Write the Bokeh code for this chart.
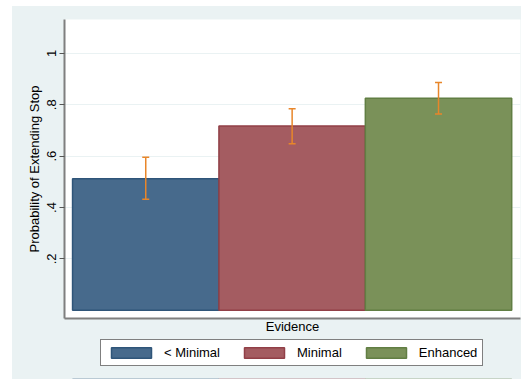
from bokeh.plotting import figure
from bokeh.models import (ColumnDataSource, Whisker, TeeHead, FixedTicker,
                          Legend, LegendItem, Range1d, Spacer)
from bokeh.layouts import column, row
from bokeh.embed import file_html
from bokeh.resources import INLINE

# Predicted probability of extending the stop, by level of evidence
groups = ["< Minimal", "Minimal", "Enhanced"]
positions = [1, 2, 3]
probability = [0.512, 0.717, 0.825]
ci_lower = [0.432, 0.648, 0.764]
ci_upper = [0.596, 0.785, 0.887]
y_ticks = [0.2, 0.4, 0.6, 0.8, 1.0]
y_tick_labels = [".2", ".4", ".6", ".8", "1"]

fill_colors = ["#476a8c", "#a45c61", "#7a9159"]
edge_colors = ["#2f5579", "#913f47", "#617e43"]
ci_color = "#e8862a"
bg_color = "#eaf2f3"
font = "Liberation Sans"
fsize = "13px"

p = figure(width=509, height=330, output_backend="svg", toolbar_location=None,
           x_range=Range1d(0.445, 3.56), y_range=Range1d(-0.032, 1.132),
           min_border_left=52, min_border_right=1, min_border_top=13,
           min_border_bottom=16)
p.background_fill_color = "white"
p.border_fill_color = bg_color
p.outline_line_color = None

for i in range(len(groups)):
    src = ColumnDataSource(dict(x=[positions[i]], top=[probability[i]]))
    p.vbar(x="x", top="top", bottom=0, width=1.0, source=src,
           fill_color=fill_colors[i], line_color=edge_colors[i], line_width=1.5)

ci_src = ColumnDataSource(dict(x=positions, lower=ci_lower, upper=ci_upper))
p.add_layout(Whisker(source=ci_src, base="x", lower="lower", upper="upper",
                     level="annotation", line_color=ci_color, line_width=1.5,
                     upper_head=TeeHead(size=7, line_color=ci_color, line_width=1.5),
                     lower_head=TeeHead(size=7, line_color=ci_color, line_width=1.5)))

# y axis: rotated tick labels in Stata style
ya = p.yaxis[0]
ya.ticker = FixedTicker(ticks=y_ticks)
ya.major_label_overrides = {t: l for t, l in zip(y_ticks, y_tick_labels)}
ya.major_label_orientation = "vertical"
ya.minor_tick_line_color = None
ya.major_tick_in = 0
ya.major_tick_out = 5
ya.major_tick_line_color = "#555555"
ya.axis_line_color = "#7f7f7f"
ya.axis_line_width = 2
ya.major_label_text_font = font
ya.major_label_text_font_size = fsize
ya.major_label_text_color = "black"
ya.major_label_standoff = 3
ya.axis_label = "Probability of Extending Stop"
ya.axis_label_text_font = font
ya.axis_label_text_font_size = fsize
ya.axis_label_text_font_style = "normal"
ya.axis_label_text_color = "black"
ya.axis_label_standoff = 3

# x axis: title only
xa = p.xaxis[0]
xa.ticker = FixedTicker(ticks=[])
xa.minor_tick_line_color = None
xa.major_tick_line_color = None
xa.major_label_text_font_size = "0px"
xa.axis_line_color = "#7f7f7f"
xa.axis_line_width = 2
xa.axis_label = "Evidence"
xa.axis_label_text_font = font
xa.axis_label_text_font_size = fsize
xa.axis_label_text_font_style = "normal"
xa.axis_label_text_color = "black"
xa.axis_label_standoff = 0

p.xgrid.grid_line_color = None
p.ygrid.ticker = FixedTicker(ticks=y_ticks)
p.ygrid.grid_line_color = bg_color
p.ygrid.grid_line_width = 1

# legend strip under the chart; its bars lie outside the strip's view
lg = figure(width=509, height=43, output_backend="svg", toolbar_location=None,
            x_axis_type=None, y_axis_type=None, min_border=0,
            min_border_left=52, min_border_right=1,
            x_range=Range1d(0.445, 3.56), y_range=Range1d(10, 11))
lg.background_fill_color = None
lg.border_fill_color = bg_color
lg.outline_line_color = None
lg.xgrid.grid_line_color = None
lg.ygrid.grid_line_color = None

keys = []
for i in range(len(groups)):
    r = lg.vbar(x=[positions[i]], top=[probability[i]], width=1.0,
                fill_color=fill_colors[i], line_color=edge_colors[i],
                line_width=1.5)
    keys.append(LegendItem(label=groups[i], renderers=[r]))

legend = Legend(items=keys, orientation="horizontal", location=(36, 13),
                glyph_width=50, glyph_height=13, label_height=13,
                label_standoff=8, spacing=19, padding=5, margin=0,
                label_text_font=font, label_text_font_size=fsize,
                label_text_color="black",
                border_line_color="black", border_line_width=1.5,
                background_fill_color="white", background_fill_alpha=1)
lg.add_layout(legend, "center")

chart = column(p, lg, styles={"background-color": bg_color})
layout = column(Spacer(height=6), row(Spacer(width=12), chart))
open("out.html", "w").write(file_html(layout, INLINE))
